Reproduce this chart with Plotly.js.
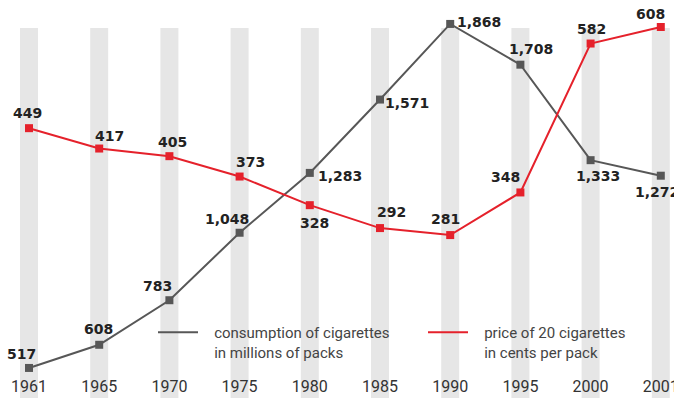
<!DOCTYPE html>
<html><head><meta charset="utf-8">
<script src="https://cdn.plot.ly/plotly-3.0.1.min.js"></script>
<style>html,body{margin:0;padding:0;background:#fff;overflow:hidden}#chart{width:674px;height:398px}</style>
</head><body><div id="chart"></div>
<script>
// ---- data ----
const years = ['1961','1965','1970','1975','1980','1985','1990','1995','2000','2001'];
const consumption = [517, 608, 783, 1048, 1283, 1571, 1868, 1708, 1333, 1272];
const price = [449, 417, 405, 373, 328, 292, 281, 348, 582, 608];
const consumptionName = ['consumption of cigarettes', 'in millions of packs'];
const priceName = ['price of 20 cigarettes', 'in cents per pack'];
const periodText = '1961–2001';

// ---- styles ----
const GRAY = '#575757', RED = '#e5212b', BAND = '#e6e6e6';
const consShift = [[-8,14],[-1,16],[-12,14],[-13,14],[30,-3],[27,-3],[29,2],[11,16],[7,-16],[-4,-16]];
const priceShift = [[-2,15],[10,13],[3,14],[11,15],[5,-18],[11,16],[-5,16],[-15,15],[1,15],[-10,13]];
const labelFont = {family:'DejaVu Sans', size:14, color:'#222', weight:700};
const legendFont = {family:'Roboto', size:15, color:'#444'};
const PAD = '\u00a0\u00a0\u00a0';

const fmt = v => v.toLocaleString('en-US');
const legendText = lines => lines.map(l => PAD + l).join('<br>');

const traces = [
  {x: years, y: consumption, type:'scatter', mode:'lines+markers', yaxis:'y', showlegend:false,
   line:{color:GRAY, width:2}, marker:{symbol:'square', size:8, color:GRAY}, cliponaxis:false, hoverinfo:'skip'},
  {x: years, y: price, type:'scatter', mode:'lines+markers', yaxis:'y2', showlegend:false,
   line:{color:RED, width:2}, marker:{symbol:'square', size:8, color:RED}, cliponaxis:false, hoverinfo:'skip'},
  {x:[null], y:[null], type:'scatter', mode:'lines', name: legendText(consumptionName), legend:'legend',
   line:{color:GRAY, width:2}},
  {x:[null], y:[null], type:'scatter', mode:'lines', name: legendText(priceName), legend:'legend2',
   line:{color:RED, width:2}}
];

const shapes = years.map((y, i) => ({
  type:'rect', xref:'x', yref:'paper', x0: i - 0.128, x1: i + 0.128, y0: 0, y1: 1 - 28/398,
  fillcolor: BAND, line:{width:0}, layer:'below'
}));

const annotations = [];
consumption.forEach((v, i) => annotations.push({
  x: i, y: v, xref:'x', yref:'y', text: fmt(v), showarrow:false,
  xanchor:'center', yanchor:'middle', xshift: consShift[i][0], yshift: consShift[i][1], font: labelFont
}));
price.forEach((v, i) => annotations.push({
  x: i, y: v, xref:'x', yref:'y2', text: fmt(v), showarrow:false,
  xanchor:'center', yanchor:'middle', xshift: priceShift[i][0], yshift: priceShift[i][1], font: labelFont
}));
annotations.push({
  xref:'paper', yref:'paper', x:0, y:1, xanchor:'left', yanchor:'bottom', xshift:8, yshift:-6,
  text: periodText, showarrow:false, font:{family:'Roboto', size:15, color:'#555'}
});

const legendBase = {orientation:'v', xanchor:'left', yanchor:'top', font: legendFont,
  bgcolor:'rgba(0,0,0,0)', valign:'top', itemwidth:40};

const layout = {
  width:674, height:398, margin:{l:0, r:0, t:0, b:0, autoexpand:false},
  paper_bgcolor:'#fff', plot_bgcolor:'#fff',
  xaxis:{type:'category', range:[-0.4131, 9.1880], tickmode:'array', tickvals: years, ticktext: years,
    showgrid:false, zeroline:false, showline:false, ticks:'', ticklabelposition:'inside',
    ticklabeloverflow:'allow', tickfont:{family:'Roboto', size:16, color:'#333'}, fixedrange:true},
  yaxis:{range:[399, 1962], visible:false, fixedrange:true},
  yaxis2:{range:[25, 650.4], overlaying:'y', visible:false, fixedrange:true},
  showlegend:true,
  legend: Object.assign({}, legendBase, {x:153/674, y:1 - 316/398}),
  legend2: Object.assign({}, legendBase, {x:423/674, y:1 - 316/398}),
  shapes: shapes,
  annotations: annotations
};

Plotly.newPlot('chart', traces, layout, {staticPlot:true, displayModeBar:false});
</script>
</body></html>
